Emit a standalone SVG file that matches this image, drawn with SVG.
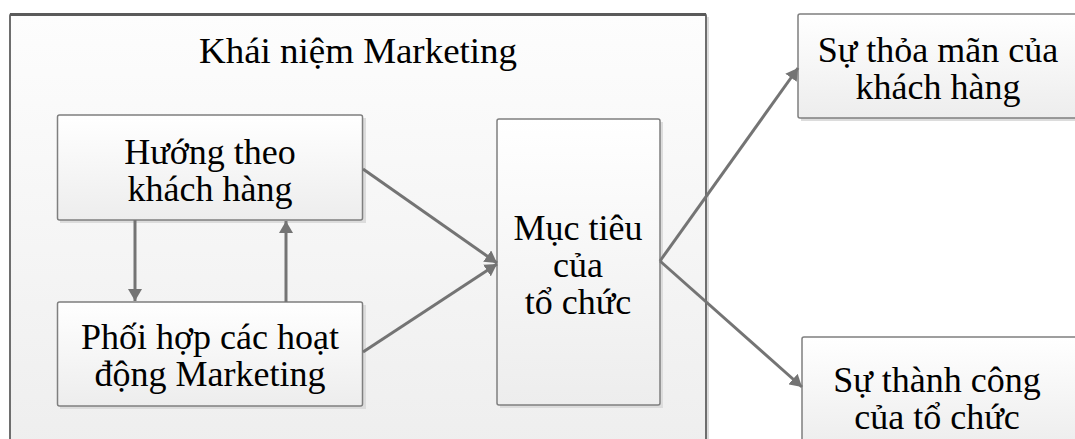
<svg xmlns="http://www.w3.org/2000/svg" width="1075" height="439" viewBox="0 0 1075 439">
  <style>
    .box { fill: url(#boxFill); stroke: #7f7f7f; stroke-width: 1.5; }
    .shadow { fill: #dcdcdc; }
    .label { font-family: "Liberation Serif", "Times New Roman", serif; font-size: 36px; fill: #000; text-anchor: middle; }
    .conn { stroke: #747474; stroke-width: 3; fill: none; marker-end: url(#arrow); }
  </style>
  <defs>
    <linearGradient id="boxFill" x1="0" y1="0" x2="0" y2="1">
      <stop offset="0" stop-color="#ffffff"/>
      <stop offset="1" stop-color="#ededed"/>
    </linearGradient>
    <linearGradient id="frameFill" x1="0" y1="0" x2="0" y2="1">
      <stop offset="0" stop-color="#fdfdfd"/>
      <stop offset="1" stop-color="#eeeeee"/>
    </linearGradient>
    <marker id="arrow" markerUnits="userSpaceOnUse" markerWidth="13" markerHeight="14" refX="12" refY="7" orient="auto">
      <path d="M0,0 L12,7 L0,14 z" fill="#747474"/>
    </marker>
  </defs>

  <rect width="1075" height="439" fill="#ffffff"/>

  <!-- outer frame: marketing concept -->
  <g id="frame">
    <rect class="shadow" x="13" y="17" width="696" height="430"/>
    <rect x="10" y="14" width="696" height="440" rx="2" fill="url(#frameFill)" stroke="#6e6e6e" stroke-width="2"/>
    <line x1="10" y1="14.5" x2="706" y2="14.5" stroke="#5a5a5a" stroke-width="3"/>
    <text class="label" x="358" y="63" textLength="318" lengthAdjust="spacingAndGlyphs">Khái niệm Marketing</text>
  </g>

  <g id="customer-orientation">
    <rect class="shadow" x="60" y="118" width="306" height="105"/>
    <rect class="box" x="57.5" y="115" width="305" height="105" rx="2"/>
    <text class="label" x="210" y="164">Hướng theo</text>
    <text class="label" x="210" y="201">khách hàng</text>
  </g>

  <g id="coordination">
    <rect class="shadow" x="60" y="305" width="306" height="104"/>
    <rect class="box" x="57.5" y="302" width="305" height="104" rx="2"/>
    <text class="label" x="210" y="349">Phối hợp các hoạt</text>
    <text class="label" x="210" y="386">động Marketing</text>
  </g>

  <g id="goals">
    <rect class="shadow" x="500" y="122" width="163" height="286"/>
    <rect class="box" x="497" y="119" width="163" height="286" rx="2"/>
    <text class="label" x="578" y="240">Mục tiêu</text>
    <text class="label" x="578" y="277">của</text>
    <text class="label" x="578" y="314">tổ chức</text>
  </g>

  <g id="satisfaction">
    <rect class="shadow" x="801" y="17" width="290" height="104"/>
    <rect class="box" x="798" y="14" width="290" height="104" rx="2"/>
    <text class="label" x="938" y="62">Sự thỏa mãn của</text>
    <text class="label" x="938" y="99">khách hàng</text>
  </g>

  <g id="success">
    <rect class="shadow" x="805" y="340" width="290" height="110"/>
    <rect class="box" x="802" y="337" width="290" height="110" rx="2"/>
    <text class="label" x="937" y="392">Sự thành công</text>
    <text class="label" x="937" y="429">của tổ chức</text>
  </g>

  <g id="connectors">
    <line class="conn" x1="135" y1="220" x2="135" y2="301"/>
    <line class="conn" x1="286" y1="302" x2="286" y2="221"/>
    <line class="conn" x1="363" y1="169" x2="497" y2="263"/>
    <line class="conn" x1="363" y1="352" x2="497" y2="264"/>
    <line class="conn" x1="660" y1="261" x2="798" y2="68"/>
    <line class="conn" x1="660" y1="261" x2="802" y2="387"/>
  </g>
</svg>
